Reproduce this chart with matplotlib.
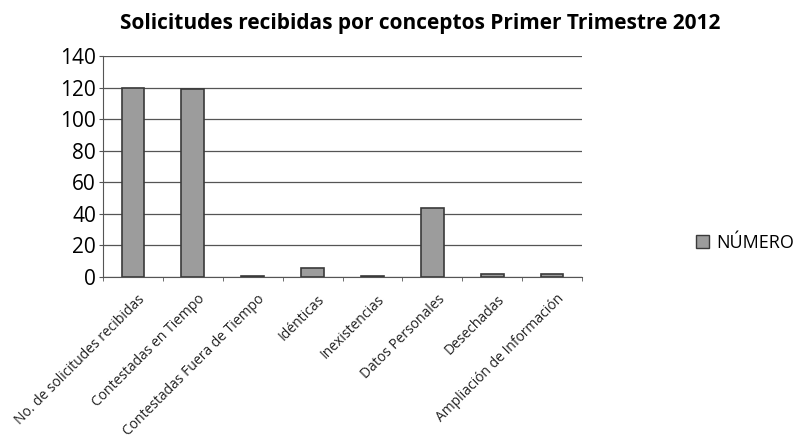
import matplotlib
matplotlib.use("Agg")
import matplotlib.pyplot as plt
import matplotlib.transforms as mtransforms
from matplotlib.patches import Patch

categories = ["No. de solicitudes recibidas", "Contestadas en Tiempo",
              "Contestadas Fuera de Tiempo", "Idénticas", "Inexistencias",
              "Datos Personales", "Desechadas", "Ampliación de Información"]
values = [120, 119, 0.5, 6, 0.5, 44, 2, 2]
series_name = "NÚMERO"
title = "Solicitudes recibidas por conceptos Primer Trimestre 2012"
yticks = [0, 20, 40, 60, 80, 100, 120, 140]

plt.rcParams['font.family'] = ['Open Sans', 'DejaVu Sans']

fig = plt.figure(figsize=(8.01, 4.45), dpi=100)
ax = fig.add_axes([0.1286, 0.3775, 0.598, 0.4965])

x = list(range(len(categories)))
ax.bar(x, values, width=0.38, color="#9c9c9c", edgecolor="#3a3a3a", linewidth=1.2, zorder=3)

ax.set_xlim(-0.5, len(categories) - 0.5)
ax.set_ylim(0, 140)
ax.set_yticks(yticks)
ax.set_yticklabels([str(v) for v in yticks], fontsize=15)
ax.yaxis.grid(True, color="#555555", linewidth=0.9, zorder=0)
ax.set_axisbelow(True)

ax.set_xticks(x)
ax.set_xticklabels([])
offset = mtransforms.ScaledTranslation(0.10, -0.20, fig.dpi_scale_trans)
trans = ax.get_xaxis_transform() + offset
for xi, cat in zip(x, categories):
    ax.text(xi, 0, cat, transform=trans, rotation=45, ha="right", va="center",
            rotation_mode="anchor", fontsize=10, color="#222222")
ax.set_xticks([i - 0.5 for i in range(len(categories) + 1)], minor=True)
ax.tick_params(axis="x", which="major", length=0)
ax.tick_params(axis="x", which="minor", length=3, color="#555555")
ax.tick_params(axis="y", length=3, color="#555555", pad=2)

for s in ["top", "right"]:
    ax.spines[s].set_visible(False)
ax.spines["left"].set_color("#555555")
ax.spines["bottom"].set_color("#555555")

fig.text(0.524, 0.948, title, ha="center", va="center", fontsize=15, fontweight="bold")

handles = [Patch(facecolor="#9c9c9c", edgecolor="#3a3a3a", label=series_name)]
fig.legend(handles=handles, loc="center left", bbox_to_anchor=(0.849, 0.455),
           frameon=False, fontsize=13, handlelength=0.7, handleheight=0.7, handletextpad=0.4)

fig.savefig("out.png", dpi=100)
